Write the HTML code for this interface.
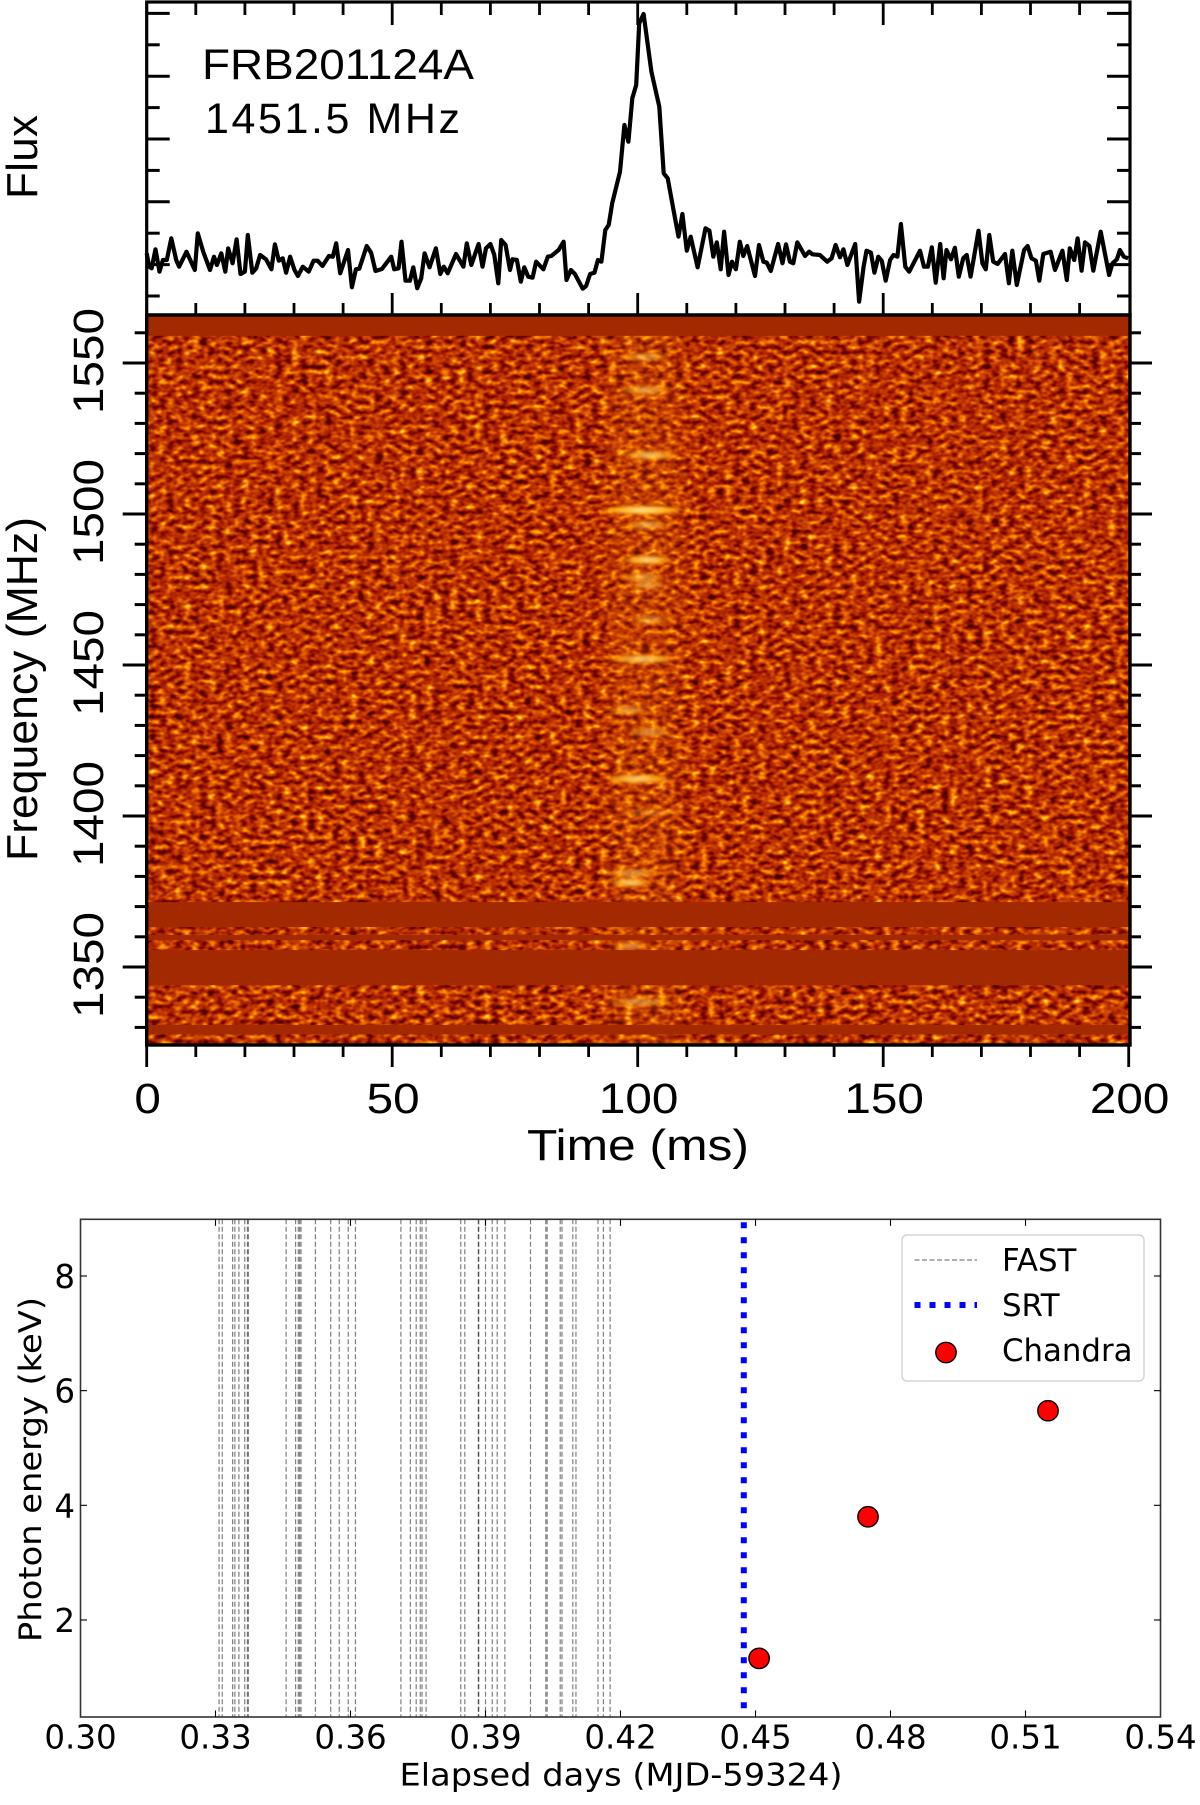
<!DOCTYPE html>
<html>
<head>
<meta charset="utf-8">
<title>FRB201124A burst and multi-wavelength timeline</title>
<style>
html,body{margin:0;padding:0;background:#fff;width:1200px;height:1805px;overflow:hidden}
svg{display:block}
.ps{font-family:"Liberation Sans",sans-serif;fill:#000}
.mp{font-family:"DejaVu Sans",sans-serif;fill:#000}
</style>
</head>
<body>
<svg id="fig" xmlns="http://www.w3.org/2000/svg" width="1200" height="1805" viewBox="0 0 1200 1805">
  <defs>
    <clipPath id="heat-clip"><rect x="146.7" y="315" width="983.3" height="730"/></clipPath>
    <filter id="speckle" x="0" y="0" width="100%" height="100%" color-interpolation-filters="sRGB">
      <feTurbulence type="fractalNoise" baseFrequency="0.12 0.2" numOctaves="2" seed="11"/>
      <feColorMatrix type="matrix" values="1 0 0 0 0  1 0 0 0 0  1 0 0 0 0  0 0 0 0 1"/>
      <feGaussianBlur stdDeviation="0.7"/>
      <feComponentTransfer>
        <feFuncR type="table" tableValues="0.12 0.16 0.22 0.4 0.6 0.73 0.85 0.97 1 1 1"/>
        <feFuncG type="table" tableValues="0 0 0 0.01 0.08 0.19 0.33 0.52 0.78 0.95 1"/>
        <feFuncB type="table" tableValues="0 0 0 0 0 0 0 0 0.12 0.5 0.9"/>
      </feComponentTransfer>
    </filter>
    <filter id="burst-blur" x="-40%" y="-200%" width="180%" height="500%">
      <feGaussianBlur stdDeviation="3.5 1.5"/>
    </filter>
    <filter id="glow-blur" x="-50%" y="-5%" width="200%" height="110%">
      <feGaussianBlur stdDeviation="9 0"/>
    </filter>
    <radialGradient id="burst-fill">
      <stop offset="0" stop-color="#fff0b0"/>
      <stop offset="0.55" stop-color="#ffc030"/>
      <stop offset="1" stop-color="#ff9208"/>
    </radialGradient>
  </defs>

  <rect x="0" y="0" width="1200" height="1805" fill="#fff"/>

  <g id="flux-panel"></g>
  <g id="heat-panel"></g>
  <g id="time-panel"></g>

  <text class="ps" x="202" y="79" font-size="43" textLength="272" lengthAdjust="spacingAndGlyphs">FRB201124A</text>
  <text class="ps" x="205" y="133" font-size="43" textLength="255" lengthAdjust="spacing">1451.5 MHz</text>
  <text class="ps" transform="translate(37 157) rotate(-90)" text-anchor="middle" font-size="44" textLength="84" lengthAdjust="spacing">Flux</text>
  <text class="ps" transform="translate(37 689) rotate(-90)" text-anchor="middle" font-size="44" textLength="344" lengthAdjust="spacingAndGlyphs">Frequency (MHz)</text>
  <text class="ps" x="638" y="1160" text-anchor="middle" font-size="44" textLength="222" lengthAdjust="spacingAndGlyphs">Time (ms)</text>

  <text class="mp" transform="translate(41 1469.5) rotate(-90)" text-anchor="middle" font-size="31" textLength="345" lengthAdjust="spacingAndGlyphs">Photon energy (keV)</text>
  <text class="mp" x="621" y="1785.5" text-anchor="middle" font-size="31" textLength="443" lengthAdjust="spacingAndGlyphs">Elapsed days (MJD-59324)</text>
</svg>

<script>
// ---- Flux profile (time in ms, flux in arbitrary units) ----
var fluxTimes = [0,0.5,1,1.8,2.6,3.3,4.1,5,6,6.6,8.1,9.8,10.4,11.5,12.9,13.7,14.3,15.2,16,16.6,17.5,18.3,19.1,20,20.6,21.5,22.3,23.1,24.3,25.4,26.1,26.9,27.7,28.4,29.2,30.1,30.8,31.8,33,34,34.8,35.8,37.1,37.9,38.6,39.4,41,41.8,42.6,43.3,44.8,45.7,46.6,47.9,49.8,50.4,51.3,51.9,52.7,53.6,54.3,55.1,55.9,56.6,57.6,58.9,59.8,60.5,61.3,63,64.5,65.2,66.1,67.6,68.4,69.1,70,70.8,71.6,72.2,73.1,74,74.5,75.4,76.2,76.9,77.7,78.6,79.3,80.8,81.7,82.4,83.9,84.9,85.5,86.4,87.2,88.8,89.5,90.3,91.2,91.9,92.6,93.4,94.1,94.8,96.4,97.3,98.1,98.9,99.7,100.3,101.2,102.8,104.4,105.3,106.1,107.3,108.3,109.1,110,110.8,112.2,113.8,114.6,115.4,116.1,116.9,117.6,118.5,119.2,120,120.8,121.5,122.3,123.9,124.7,125.6,126.3,127.1,128.6,129.5,130.2,131,131.7,132.5,134.1,134.9,135.6,137.1,138.6,139.5,140.3,141.2,141.9,142.7,144.3,145.1,146,146.6,147.5,148.2,149,149.7,150.5,151.4,152.1,152.9,153.6,154.5,155.3,157.5,158.3,159.1,159.9,160.7,161.6,162.3,162.9,163.8,164.6,165.4,166.3,167,167.8,169.4,170.2,170.9,171.6,172.4,173.3,174.8,175.6,176.3,177.2,178.7,179.4,180.2,181.1,181.8,182.6,184.1,185,186.5,187.4,188,188.9,189.6,190.4,191.1,192,192.8,194.3,196,196.7,197.6,198.2,199,199.9];
var fluxValues = [128,88,83,140,73,108,108,173,108,88,133,78,188,133,78,118,93,128,73,143,98,170,66,73,183,70,83,123,110,80,155,106,113,70,118,78,60,88,73,106,106,90,120,118,158,68,138,26,80,82,150,130,75,81,118,80,83,163,46,46,86,23,53,128,86,143,66,88,68,126,88,158,93,156,88,143,156,123,38,168,153,78,110,108,43,86,58,55,103,80,118,120,138,163,48,78,66,22,30,66,70,108,103,198,213,278,373,513,463,593,633,818,846,673,568,368,353,258,178,246,136,178,86,203,196,118,161,80,193,63,103,80,163,120,150,60,153,103,100,75,156,98,155,103,98,161,120,133,125,123,103,113,153,116,140,93,156,-17,88,136,130,70,118,106,46,108,123,118,216,88,73,136,88,88,146,40,156,53,138,110,145,58,113,123,58,196,98,80,183,103,96,126,38,136,33,138,150,113,106,46,126,133,78,136,48,143,108,173,76,161,150,76,193,63,98,110,138,118,113];

// ---- Dynamic spectrum: bright burst channels ----
var burstFreqs   = [1552,1541,1519.5,1501.3,1496.4,1484.8,1479,1476.5,1465,1452,1435,1427.8,1412.3,1401,1381,1378,1357,1338.4];
var burstTimes   = [101.6,101.6,102.5,101,102,102,101,102,102.5,101,98,102.5,100,102.5,99,98.5,98.5,100.5];
var burstHalfMs  = [3,3.5,4,6.5,2.5,3.3,2.8,2.2,2.2,5,2.5,3,5,5,4,2.5,2,5];
var burstPeaks   = [0.5,0.6,0.75,1,0.6,0.9,0.55,0.55,0.5,0.8,0.5,0.5,0.85,0.25,0.55,0.85,0.5,0.5];
// Flagged (zero-weighted) frequency ranges in MHz: [high edge, low edge]
var flaggedHigh  = [1566,1371.5,1360.6,1355.6,1330.8];
var flaggedLow   = [1559,1363.2,1358.9,1344,1327.7];

// ---- Axis tick values ----
var timeMajor = [0,50,100,150,200];
var timeLabels = ['0','50','100','150','200'];
var freqMajor = [1350,1400,1450,1500,1550];
var freqLabels = ['1350','1400','1450','1500','1550'];

// ---- Timeline panel ----
var fastBursts = [0.3308,0.3315,0.3338,0.3343,0.3352,0.3365,0.3371,0.3373,0.3457,0.3478,0.3484,0.3487,0.3490,0.3522,0.3556,0.3575,0.3595,0.3611,0.3712,0.3733,0.3746,0.3755,0.3759,0.3768,0.3845,0.3854,0.3884,0.3885,0.3900,0.3915,0.3926,0.3943,0.4000,0.4034,0.4037,0.4066,0.4070,0.4094,0.4101,0.4150,0.4162,0.4177];
var srtBursts = [0.4474];
var chandraDays = [0.4508,0.4750,0.5150];
var chandraEnergy = [1.33,3.80,5.65];
var dayTicks = [0.30,0.33,0.36,0.39,0.42,0.45,0.48,0.51,0.54];
var dayTickLabels = ['0.30','0.33','0.36','0.39','0.42','0.45','0.48','0.51','0.54'];
var kevTicks = [2,4,6,8];
var kevTickLabels = ['2','4','6','8'];

// ---- Axis functions ----
function xTime(t){ return 146.7 + 4.91 * t; }
function yFlux(v){ return 296 - v / 3; }
function yFreq(f){ return 967 - (f - 1350) * 3.02; }
function xDays(d){ return 80.5 + (d - 0.30) * 4500; }
function yKev(e){ return 1276 + (8 - e) * 57.33; }

var NS = 'http://www.w3.org/2000/svg';
function mk(parent, tag, attrs){
  var n = document.createElementNS(NS, tag);
  for (var k in attrs) n.setAttribute(k, attrs[k]);
  parent.appendChild(n);
  return n;
}
var el;
var flux = document.getElementById('flux-panel');
var heat = document.getElementById('heat-panel');
var tl = document.getElementById('time-panel');

// ================= Flux panel =================
var pts = [];
for (var i = 0; i < fluxTimes.length; i++) pts.push(xTime(fluxTimes[i]).toFixed(1) + ',' + yFlux(fluxValues[i]).toFixed(1));
el = mk(flux, 'polyline', {points: pts.join(' '), fill: 'none', stroke: '#000', 'stroke-width': 4.2, 'stroke-linejoin': 'round'});



el = mk(flux, 'rect', {x: 146.7, y: 2, width: 983.3, height: 313, fill: 'none', stroke: '#000', 'stroke-width': 3.2});



for (var t = 0; t <= 200; t += 10) {
  var maj = timeMajor.indexOf(t) >= 0;
  var len = maj ? 22 : 12;
  if (t > 0 && t < 200) {
    el = mk(flux, 'line', {x1: xTime(t), x2: xTime(t), y1: 3, y2: 3 + len, stroke: '#000', 'stroke-width': 2.8});
    
    
    el = mk(flux, 'line', {x1: xTime(t), x2: xTime(t), y1: 315, y2: 315 - len, stroke: '#000', 'stroke-width': 2.8});
    
    
  }
}
for (var k = 0; k < 10; k++) {
  var fv = k * 94.2;
  var fmaj = k % 2 === 1;
  var flen = fmaj ? 23 : 13;
  el = mk(flux, 'line', {x1: 146.7, x2: 146.7 + flen, y1: yFlux(fv), y2: yFlux(fv), stroke: '#000', 'stroke-width': 3});
  
  
  el = mk(flux, 'line', {x1: 1130, x2: 1130 - flen, y1: yFlux(fv), y2: yFlux(fv), stroke: '#000', 'stroke-width': 3});
  
  
}

// ================= Dynamic spectrum =================
var clip = mk(heat, 'g', {'clip-path': 'url(#heat-clip)'});



el = mk(clip, 'rect', {x: 146.7, y: 315, width: 983.3, height: 730, fill: '#c85000', filter: 'url(#speckle)'});



el = mk(clip, 'rect', {x: xTime(94), y: 315, width: xTime(109) - xTime(94), height: 730, fill: '#ff9a10', opacity: 0.14, filter: 'url(#glow-blur)'});



for (var b = 0; b < burstFreqs.length; b++) {
  el = mk(clip, 'ellipse', {
    cx: xTime(burstTimes[b]), cy: yFreq(burstFreqs[b]),
    rx: burstHalfMs[b] * 4.91 + 6, ry: 4.5,
    fill: 'url(#burst-fill)', opacity: burstPeaks[b], filter: 'url(#burst-blur)'
  });
  
  
}

for (var r = 0; r < flaggedHigh.length; r++) {
  el = mk(clip, 'rect', {
    x: 146.7, y: yFreq(flaggedHigh[r]), width: 983.3,
    height: yFreq(flaggedLow[r]) - yFreq(flaggedHigh[r]), fill: '#a32900'
  });
  
  
}

el = mk(heat, 'rect', {x: 146.7, y: 315, width: 983.3, height: 730, fill: 'none', stroke: '#000', 'stroke-width': 3.4});



for (var f = 1330; f <= 1560; f += 10) {
  var mj = freqMajor.indexOf(f) >= 0;
  el = mk(heat, 'line', {x1: 146.7, x2: 146.7 - (mj ? 24 : 12), y1: yFreq(f), y2: yFreq(f), stroke: '#000', 'stroke-width': 3});
  
  
  el = mk(heat, 'line', {x1: 1130, x2: 1130 + (mj ? 22 : 11), y1: yFreq(f), y2: yFreq(f), stroke: '#000', 'stroke-width': 3});
  
  
}
for (var q = 0; q < freqMajor.length; q++) {
  var yy = yFreq(freqMajor[q]) - 2;
  el = mk(heat, 'text', {transform: 'translate(103 ' + yy + ') rotate(-90)', 'text-anchor': 'middle', 'font-size': 43, textLength: 106, lengthAdjust: 'spacingAndGlyphs', 'class': 'ps'});
  el.textContent = freqLabels[q];
  
  
}
for (var t2 = 0; t2 <= 200; t2 += 10) {
  var m2 = timeMajor.indexOf(t2) >= 0;
  el = mk(heat, 'line', {x1: xTime(t2), x2: xTime(t2), y1: 1045, y2: 1045 + (m2 ? 22 : 12), stroke: '#000', 'stroke-width': 2.8});
  
  
}
for (var q2 = 0; q2 < timeMajor.length; q2++) {
  el = mk(heat, 'text', {x: xTime(timeMajor[q2]) + 1, y: 1113, 'text-anchor': 'middle', 'font-size': 43, textLength: timeLabels[q2].length * 26.5, lengthAdjust: 'spacingAndGlyphs', 'class': 'ps'});
  el.textContent = timeLabels[q2];
  
  
}

// ================= Timeline panel =================
var plotLeft = xDays(0.30), plotRight = xDays(0.54), plotTop = 1219.3, plotBottom = 1717;
for (var s = 0; s < fastBursts.length; s++) {
  el = mk(tl, 'line', {x1: xDays(fastBursts[s]), x2: xDays(fastBursts[s]), y1: plotTop, y2: plotBottom, stroke: '#000', 'stroke-opacity': 0.5, 'stroke-width': 1.2, 'stroke-dasharray': '5 2.5'});
  
  
}
for (var s2 = 0; s2 < srtBursts.length; s2++) {
  el = mk(tl, 'line', {x1: xDays(srtBursts[s2]), x2: xDays(srtBursts[s2]), y1: plotTop + 3, y2: plotBottom, stroke: '#0000ff', 'stroke-width': 6, 'stroke-dasharray': '6 9'});
  
  
}
for (var c = 0; c < chandraDays.length; c++) {
  el = mk(tl, 'circle', {cx: xDays(chandraDays[c]), cy: yKev(chandraEnergy[c]), r: 10.2, fill: '#ff0000', stroke: '#000', 'stroke-width': 1.4});
  
  
}

el = mk(tl, 'rect', {x: plotLeft, y: plotTop, width: plotRight - plotLeft, height: plotBottom - plotTop, fill: 'none', stroke: '#333', 'stroke-width': 1.6});



for (var d = 0; d < dayTicks.length; d++) {
  var dx = xDays(dayTicks[d]);
  if (d > 0 && d < dayTicks.length - 1) {
    el = mk(tl, 'line', {x1: dx, x2: dx, y1: plotBottom, y2: plotBottom - 6.5, stroke: '#000', 'stroke-width': 1.1});
    
    
    el = mk(tl, 'line', {x1: dx, x2: dx, y1: plotTop, y2: plotTop + 6.5, stroke: '#000', 'stroke-width': 1.1});
    
    
  }
  el = mk(tl, 'text', {x: dx, y: 1748.5, 'text-anchor': 'middle', 'font-size': 32.5, 'class': 'mp'});
  el.textContent = dayTickLabels[d];
  
  
}
for (var e = 0; e < kevTicks.length; e++) {
  var ey = yKev(kevTicks[e]);
  el = mk(tl, 'line', {x1: plotLeft, x2: plotLeft + 6.5, y1: ey, y2: ey, stroke: '#000', 'stroke-width': 1.1});
  
  
  el = mk(tl, 'line', {x1: plotRight, x2: plotRight - 6.5, y1: ey, y2: ey, stroke: '#000', 'stroke-width': 1.1});
  
  
  el = mk(tl, 'text', {x: 75, y: ey + 12, 'text-anchor': 'end', 'font-size': 32.5, 'class': 'mp'});
  el.textContent = kevTickLabels[e];
  
  
}

// Legend
var lg = mk(tl, 'g', {});


el = mk(lg, 'rect', {x: 902, y: 1235, width: 242, height: 146, rx: 5, fill: '#fff', stroke: '#ccc', 'stroke-width': 1.2});


el = mk(lg, 'line', {x1: 914.5, x2: 977, y1: 1260, y2: 1260, stroke: '#000', 'stroke-opacity': 0.5, 'stroke-width': 1.2, 'stroke-dasharray': '5 2.5'});


el = mk(lg, 'text', {x: 1002, y: 1271, 'font-size': 30.8, 'class': 'mp'});
el.textContent = 'FAST';


el = mk(lg, 'line', {x1: 914.5, x2: 977, y1: 1305, y2: 1305, stroke: '#0000ff', 'stroke-width': 6, 'stroke-dasharray': '6 9'});


el = mk(lg, 'text', {x: 1002, y: 1316, 'font-size': 30.8, 'class': 'mp'});
el.textContent = 'SRT';


el = mk(lg, 'circle', {cx: 946, cy: 1352.5, r: 10.2, fill: '#ff0000', stroke: '#000', 'stroke-width': 1.4});


el = mk(lg, 'text', {x: 1002, y: 1361, 'font-size': 30.8, 'class': 'mp'});
el.textContent = 'Chandra';


</script>
</body>
</html>
